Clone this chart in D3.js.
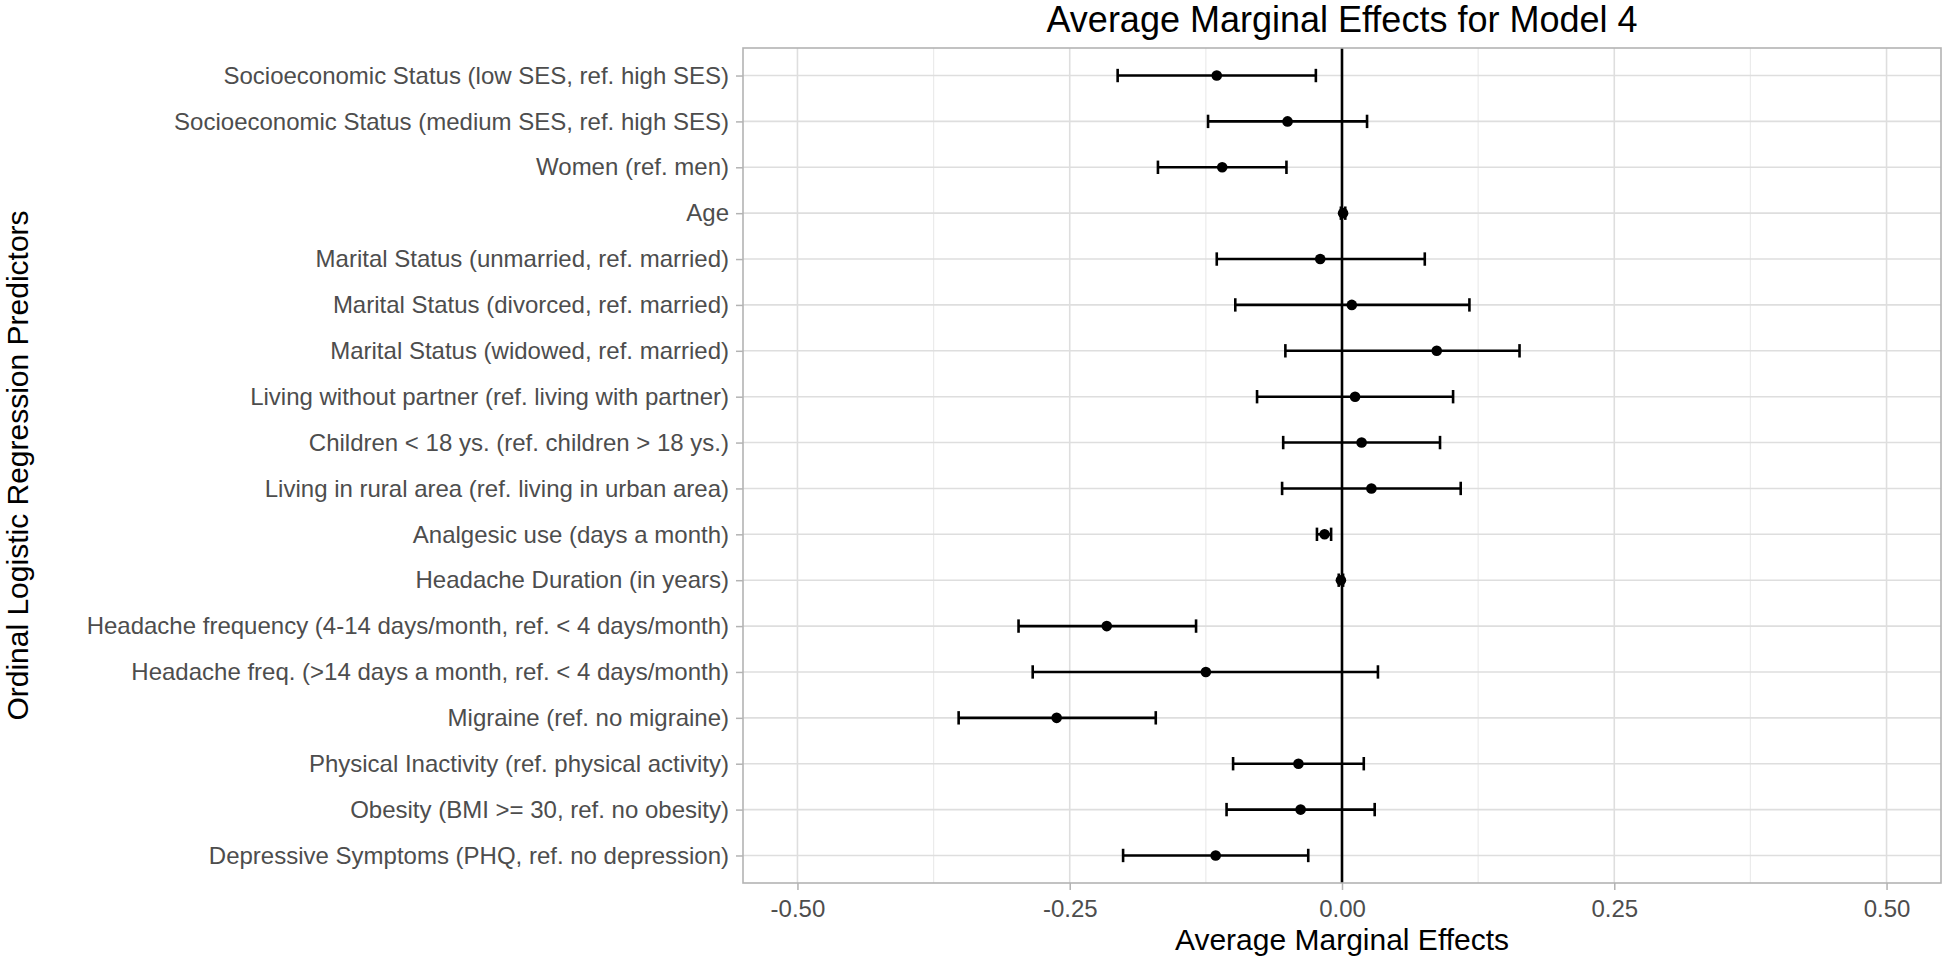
<!DOCTYPE html>
<html>
<head>
<meta charset="utf-8">
<script src="https://cdn.jsdelivr.net/npm/d3@7"></script>
<style>
  html, body { margin: 0; padding: 0; background: #ffffff; }
  svg { display: block; font-family: "Liberation Sans", Arial, sans-serif; }
</style>
</head>
<body>
<svg id="chart" width="1944" height="958"></svg>
<script>
// ---- data ----
const categories = [
  "Socioeconomic Status (low SES, ref. high SES)",
  "Socioeconomic Status (medium SES, ref. high SES)",
  "Women (ref. men)",
  "Age",
  "Marital Status (unmarried, ref. married)",
  "Marital Status (divorced, ref. married)",
  "Marital Status (widowed, ref. married)",
  "Living without partner (ref. living with partner)",
  "Children < 18 ys. (ref. children > 18 ys.)",
  "Living in rural area (ref. living in urban area)",
  "Analgesic use (days a month)",
  "Headache Duration (in years)",
  "Headache frequency (4-14 days/month, ref. < 4 days/month)",
  "Headache freq. (>14 days a month, ref. < 4 days/month)",
  "Migraine (ref. no migraine)",
  "Physical Inactivity (ref. physical activity)",
  "Obesity (BMI >= 30, ref. no obesity)",
  "Depressive Symptoms (PHQ, ref. no depression)"
];
const estimates = [-0.115, -0.050, -0.110, 0.001, -0.020, 0.009, 0.087, 0.012, 0.018, 0.027, -0.016, -0.001, -0.216, -0.125, -0.262, -0.040, -0.038, -0.116];
const lower     = [-0.206, -0.123, -0.169, -0.001, -0.115, -0.098, -0.052, -0.078, -0.054, -0.055, -0.023, -0.003, -0.297, -0.284, -0.352, -0.100, -0.106, -0.201];
const upper     = [-0.024,  0.023, -0.051,  0.003,  0.076,  0.117,  0.163,  0.102,  0.090,  0.109, -0.010,  0.001, -0.134,  0.033, -0.171,  0.020,  0.030, -0.031];
const xTicks = [-0.5, -0.25, 0, 0.25, 0.5];
const xTickLabels = ["-0.50", "-0.25", "0.00", "0.25", "0.50"];
const xMinorTicks = [-0.375, -0.125, 0.125, 0.375];
const xDomain = [-0.55, 0.55];
const titleText = "Average Marginal Effects for Model 4";
const xTitleText = "Average Marginal Effects";
const yTitleText = "Ordinal Logistic Regression Predictors";

// ---- layout ----
const panel = { left: 743, right: 1941, top: 48, bottom: 883 };
const svg = d3.select("#chart");

const x = d3.scaleLinear().domain(xDomain).range([panel.left, panel.right]);
const y = d3.scalePoint().domain(categories).range([panel.top, panel.bottom]).padding(0.6);

const rows = categories.map((c, i) => ({ cat: c, est: estimates[i], lo: lower[i], hi: upper[i] }));

// panel background
svg.append("rect")
  .attr("x", panel.left).attr("y", panel.top)
  .attr("width", panel.right - panel.left).attr("height", panel.bottom - panel.top)
  .attr("fill", "#ffffff");

// minor grid
svg.append("g").selectAll("line").data(xMinorTicks).join("line")
  .attr("x1", d => x(d)).attr("x2", d => x(d))
  .attr("y1", panel.top).attr("y2", panel.bottom)
  .attr("stroke", "#EBEBEB").attr("stroke-width", 1.2);

// major grid (x)
svg.append("g").selectAll("line").data(xTicks).join("line")
  .attr("x1", d => x(d)).attr("x2", d => x(d))
  .attr("y1", panel.top).attr("y2", panel.bottom)
  .attr("stroke", "#DEDEDE").attr("stroke-width", 1.6);

// major grid (y)
svg.append("g").selectAll("line").data(categories).join("line")
  .attr("x1", panel.left).attr("x2", panel.right)
  .attr("y1", d => y(d)).attr("y2", d => y(d))
  .attr("stroke", "#DEDEDE").attr("stroke-width", 1.6);

// zero line
svg.append("line")
  .attr("x1", x(0)).attr("x2", x(0))
  .attr("y1", panel.top).attr("y2", panel.bottom)
  .attr("stroke", "#000000").attr("stroke-width", 2.6);

// error bars
const capH = 6.7;
const eb = svg.append("g").attr("stroke", "#000000").attr("stroke-width", 2.6).attr("fill", "none");
eb.selectAll("line.h").data(rows).join("line").attr("class", "h")
  .attr("x1", d => x(d.lo)).attr("x2", d => x(d.hi))
  .attr("y1", d => y(d.cat)).attr("y2", d => y(d.cat));
eb.selectAll("line.l").data(rows).join("line").attr("class", "l")
  .attr("x1", d => x(d.lo)).attr("x2", d => x(d.lo))
  .attr("y1", d => y(d.cat) - capH).attr("y2", d => y(d.cat) + capH);
eb.selectAll("line.r").data(rows).join("line").attr("class", "r")
  .attr("x1", d => x(d.hi)).attr("x2", d => x(d.hi))
  .attr("y1", d => y(d.cat) - capH).attr("y2", d => y(d.cat) + capH);

// points
svg.append("g").selectAll("circle").data(rows).join("circle")
  .attr("cx", d => x(d.est)).attr("cy", d => y(d.cat)).attr("r", 5.3)
  .attr("fill", "#000000");

// panel border
svg.append("rect")
  .attr("x", panel.left).attr("y", panel.top)
  .attr("width", panel.right - panel.left).attr("height", panel.bottom - panel.top)
  .attr("fill", "none").attr("stroke", "#B3B3B3").attr("stroke-width", 1.6);

// x axis
const xAxis = d3.axisBottom(x).tickValues(xTicks)
  .tickFormat((d, i) => xTickLabels[i]).tickSize(7).tickPadding(10);
const gx = svg.append("g").attr("transform", `translate(0,${panel.bottom})`).call(xAxis);
gx.select(".domain").remove();
gx.selectAll(".tick line").attr("stroke", "#B3B3B3").attr("stroke-width", 1.5);
gx.selectAll(".tick text").attr("fill", "#4D4D4D")
  .style("font-size", "24px").style("font-family", "'Liberation Sans', Arial, sans-serif");

// y axis
const yAxis = d3.axisLeft(y).tickSize(7).tickPadding(7);
const gy = svg.append("g").attr("transform", `translate(${panel.left},0)`).call(yAxis);
gy.select(".domain").remove();
gy.selectAll(".tick line").attr("stroke", "#B3B3B3").attr("stroke-width", 1.5);
gy.selectAll(".tick text").attr("fill", "#4D4D4D")
  .style("font-size", "24px").style("font-family", "'Liberation Sans', Arial, sans-serif");

// titles
const cx = (panel.left + panel.right) / 2;
svg.append("text").attr("x", cx).attr("y", 32)
  .attr("text-anchor", "middle").attr("fill", "#000000")
  .style("font-size", "36px").text(titleText);

svg.append("text").attr("x", cx).attr("y", 950)
  .attr("text-anchor", "middle").attr("fill", "#000000")
  .style("font-size", "30px").text(xTitleText);

const cy = (panel.top + panel.bottom) / 2;
svg.append("text")
  .attr("transform", `translate(28,${cy}) rotate(-90)`)
  .attr("text-anchor", "middle").attr("fill", "#000000")
  .style("font-size", "30px").text(yTitleText);
</script>
</body>
</html>
